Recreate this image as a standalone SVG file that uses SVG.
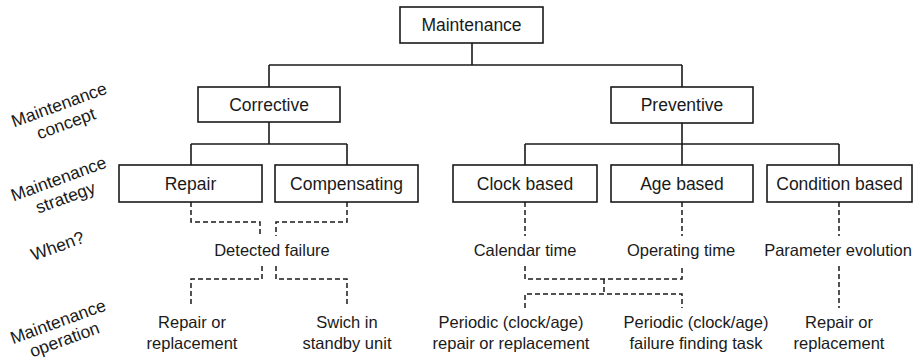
<svg xmlns="http://www.w3.org/2000/svg" width="919" height="362" viewBox="0 0 919 362">
<style>
.box{fill:#fff;stroke:#1a1a1a;stroke-width:1.6}
.bt{font-family:"Liberation Sans",Arial,sans-serif;font-size:17.5px;fill:#1a1a1a;text-anchor:middle}
.t{font-family:"Liberation Sans",Arial,sans-serif;font-size:16.5px;fill:#1a1a1a;text-anchor:middle}
.lab{font-family:"Liberation Sans",Arial,sans-serif;font-size:17.5px;fill:#1a1a1a;text-anchor:middle}
.solid{fill:none;stroke:#1a1a1a;stroke-width:1.6}
.dash{fill:none;stroke:#1a1a1a;stroke-width:1.5;stroke-dasharray:5 3}
</style>
<rect width="919" height="362" fill="#fff"/>
<g id="connectors">
<path class="solid" d="M472 43V65M269 65H682M269 65V87M682 65V87"/>
<path class="solid" d="M269 122V144M191 144H347M191 144V165M347 144V165"/>
<path class="solid" d="M682 123V144M525 144H839M525 144V165M682 144V165M839 144V165"/>
<path class="dash" d="M191 202V222H260V236"/>
<path class="dash" d="M347 202V222H276V236"/>
<path class="dash" d="M262 266V279H191V306"/>
<path class="dash" d="M276 266V279H347V306"/>
<path class="dash" d="M525 202V236"/>
<path class="dash" d="M682 202V236"/>
<path class="dash" d="M839 202V236"/>
<path class="dash" d="M525 266V279H682V266"/>
<path class="dash" d="M604 279V294"/>
<path class="dash" d="M525 308V294H682V308"/>
<path class="dash" d="M839 266V308"/>
</g>
<g id="maintenance"><rect class="box" x="400" y="7" width="143" height="36"/><text class="bt" x="471.5" y="31">Maintenance</text></g>
<g id="corrective"><rect class="box" x="198" y="87" width="142" height="35"/><text class="bt" x="269" y="110.5">Corrective</text></g>
<g id="preventive"><rect class="box" x="611" y="87" width="142" height="36"/><text class="bt" x="682" y="111">Preventive</text></g>
<g id="repair"><rect class="box" x="119" y="165" width="143" height="37"/><text class="bt" x="190.5" y="190">Repair</text></g>
<g id="compensating"><rect class="box" x="275" y="165" width="143" height="37"/><text class="bt" x="346.5" y="190">Compensating</text></g>
<g id="clock"><rect class="box" x="453" y="165" width="144" height="37"/><text class="bt" x="525" y="190">Clock based</text></g>
<g id="age"><rect class="box" x="611" y="165" width="142" height="37"/><text class="bt" x="682" y="190">Age based</text></g>
<g id="condition"><rect class="box" x="767" y="165" width="145" height="37"/><text class="bt" x="839.5" y="190">Condition based</text></g>
<g id="detected"><text class="t" x="272" y="256">Detected failure</text></g>
<g id="calendar"><text class="t" x="525" y="256">Calendar time</text></g>
<g id="operating"><text class="t" x="681" y="256">Operating time</text></g>
<g id="parameter"><text class="t" x="838" y="256">Parameter evolution</text></g>
<g id="op-repair"><text class="t" x="192" y="328">Repair or</text><text class="t" x="192" y="349">replacement</text></g>
<g id="op-switch"><text class="t" x="347" y="328">Swich in</text><text class="t" x="347" y="349">standby unit</text></g>
<g id="op-periodic1"><text class="t" x="511" y="328">Periodic (clock/age)</text><text class="t" x="511" y="349">repair or replacement</text></g>
<g id="op-periodic2"><text class="t" x="696" y="328">Periodic (clock/age)</text><text class="t" x="696" y="349">failure finding task</text></g>
<g id="op-repair2"><text class="t" x="839" y="328">Repair or</text><text class="t" x="839" y="349">replacement</text></g>
<g id="labels">
<g transform="translate(62.5,114) rotate(-20)"><text class="lab" x="0" y="-4">Maintenance</text><text class="lab" x="0" y="16">concept</text></g>
<g transform="translate(62,188) rotate(-20)"><text class="lab" x="0" y="-4">Maintenance</text><text class="lab" x="0" y="16">strategy</text></g>
<g transform="translate(57.5,246) rotate(-20)"><text class="lab" x="0" y="6">When?</text></g>
<g transform="translate(61,330) rotate(-20)"><text class="lab" x="0" y="-3">Maintenance</text><text class="lab" x="0" y="16">operation</text></g>
</g>
</svg>
